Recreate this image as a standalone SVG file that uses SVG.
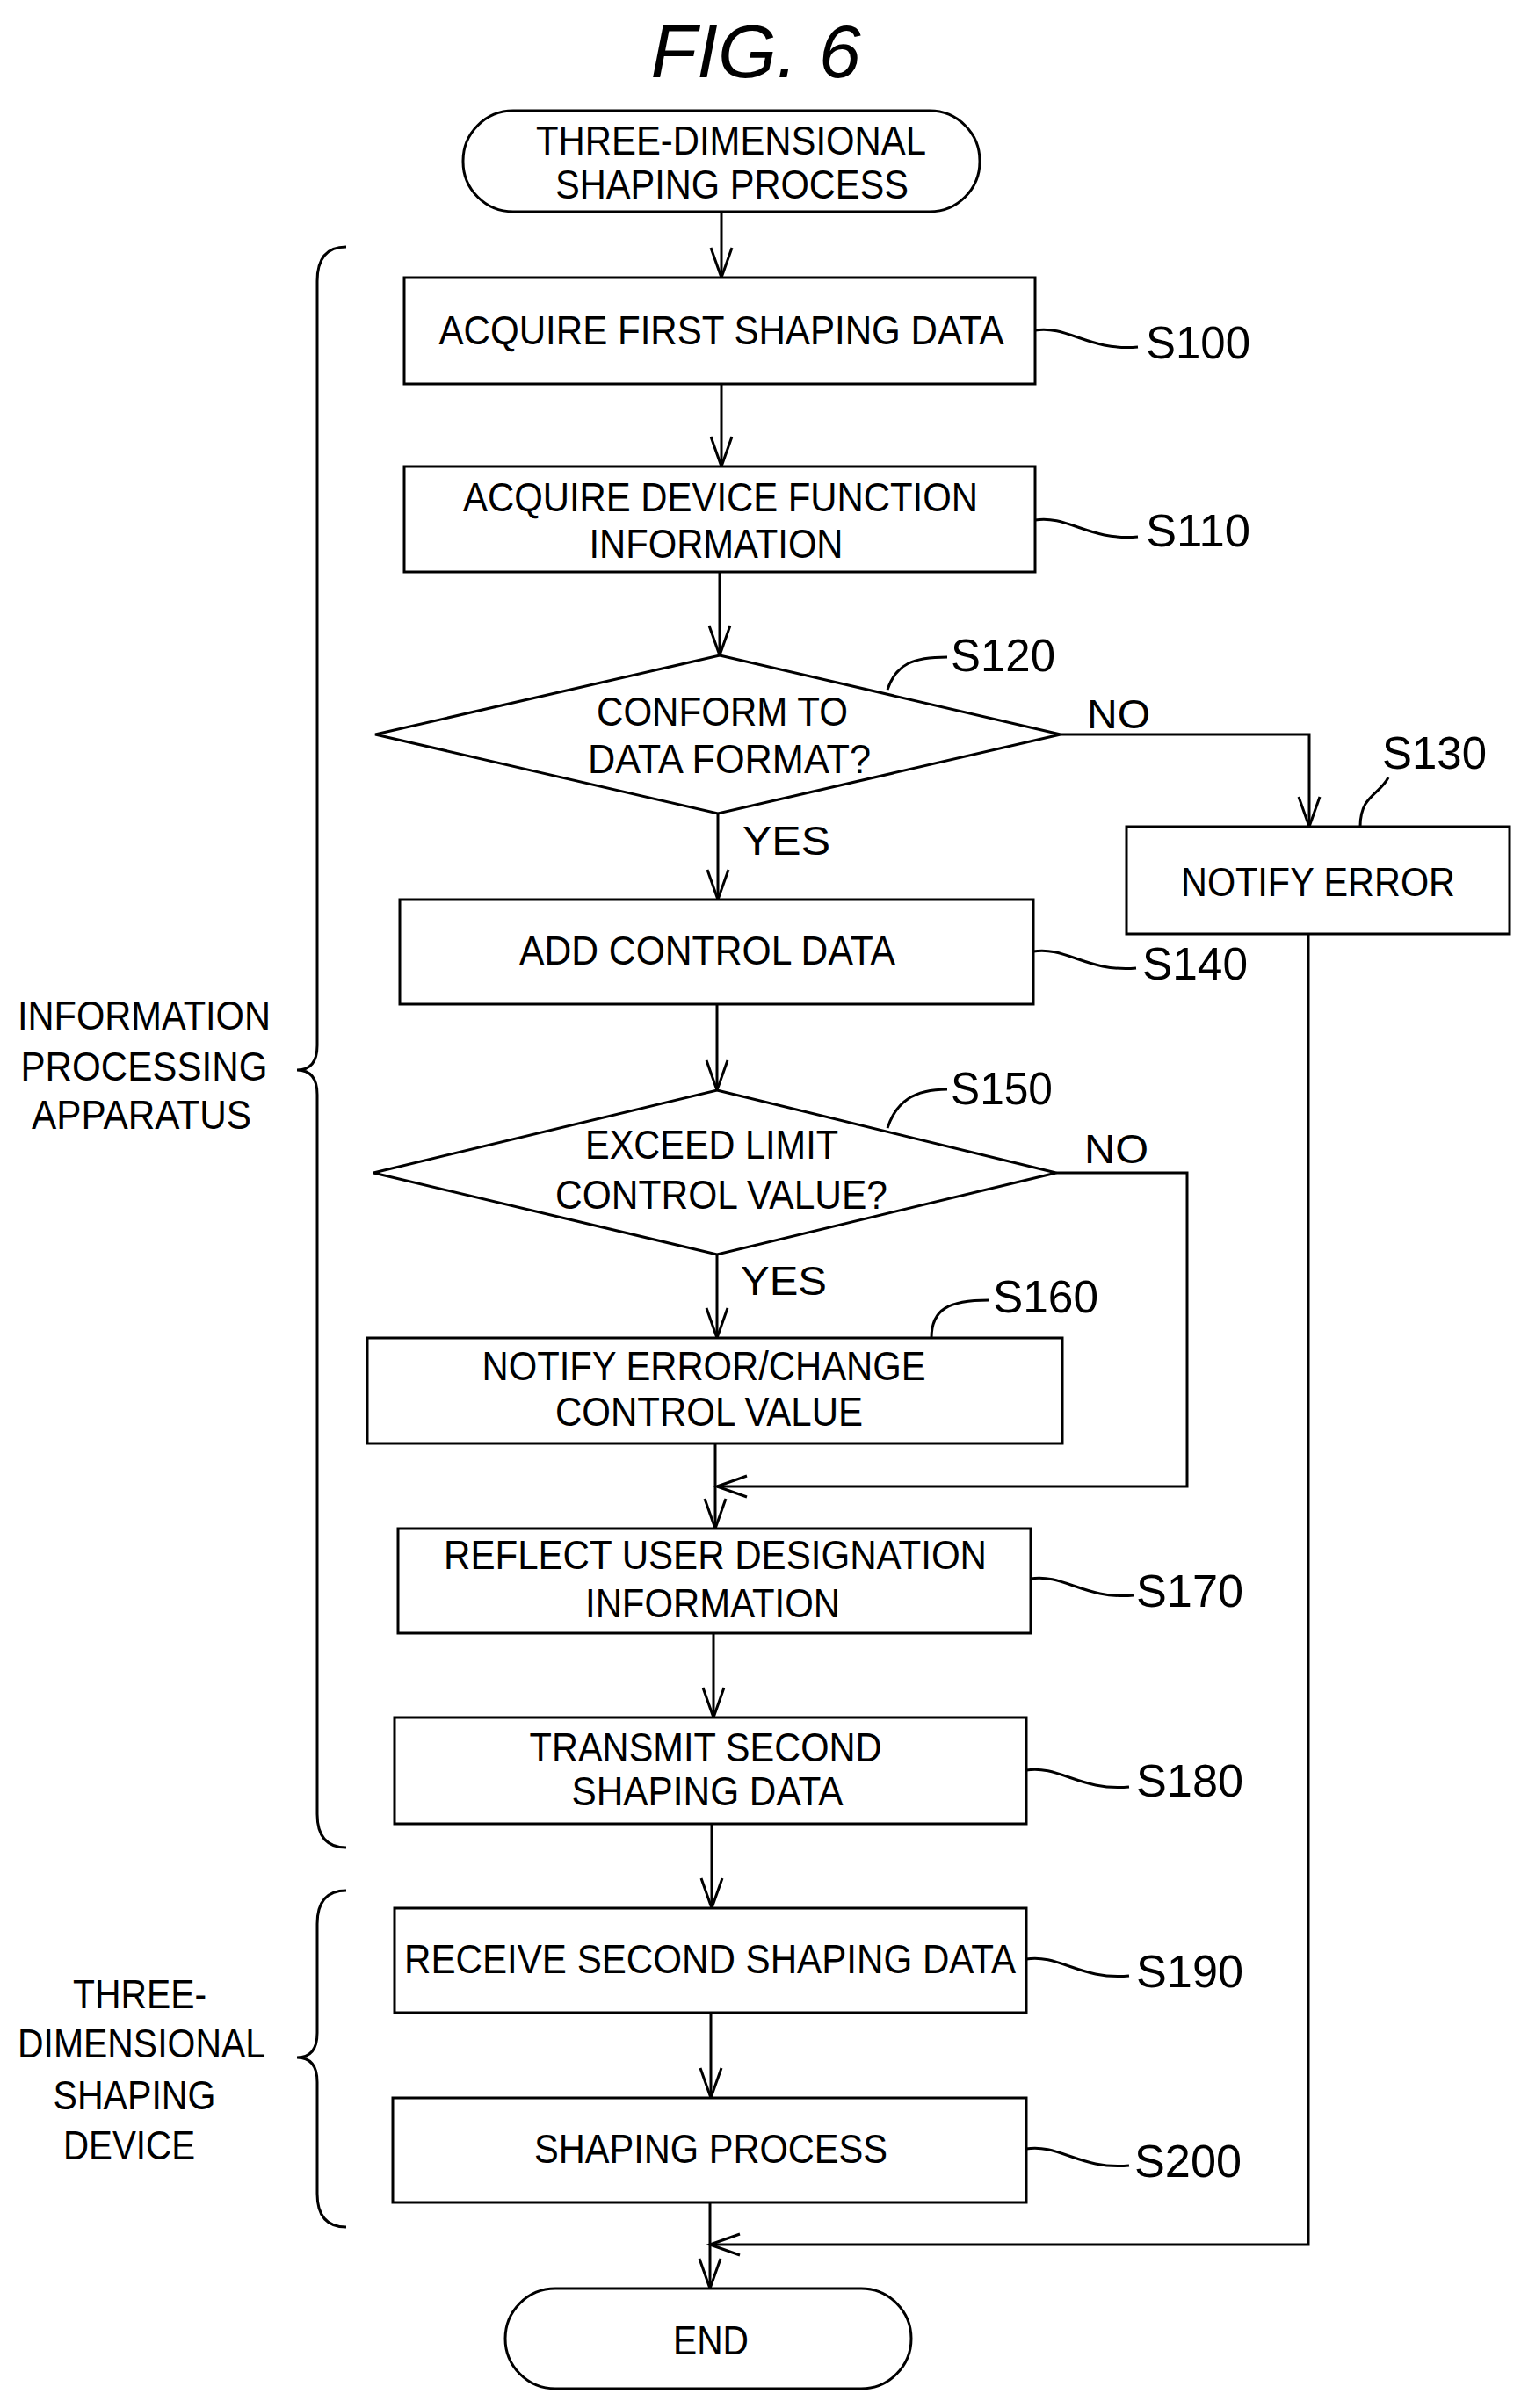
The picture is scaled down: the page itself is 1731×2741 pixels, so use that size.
<svg xmlns="http://www.w3.org/2000/svg" width="1731" height="2741" viewBox="0 0 1731 2741">
<style>
.n{fill:#fff;stroke:#000;stroke-width:3}
.c{fill:none;stroke:#000;stroke-width:3}
text{font-family:"Liberation Sans",Arial,sans-serif;font-size:46px;fill:#000}
.m{text-anchor:middle}
.s{font-size:52px}
</style>
<defs>
<marker id="a" markerWidth="40" markerHeight="40" refX="36" refY="20" orient="auto" markerUnits="userSpaceOnUse" viewBox="0 0 40 40">
<path d="M2,8 L36,20 L2,32" fill="none" stroke="#000" stroke-width="3"/>
</marker>
</defs>
<rect width="1731" height="2741" fill="#fff"/>
<text x="860" y="88" class="m" style="font-size:86px;font-style:italic">FIG. 6</text>
<g id="connectors">
<path class="c" d="M821,241 L821,316" marker-end="url(#a)"/>
<path class="c" d="M821,437 L821,531" marker-end="url(#a)"/>
<path class="c" d="M819,651 L819,746" marker-end="url(#a)"/>
<path class="c" d="M1207,836 L1490,836 L1490,941" marker-end="url(#a)"/>
<path class="c" d="M817,926 L817,1024" marker-end="url(#a)"/>
<path class="c" d="M816,1143 L816,1241" marker-end="url(#a)"/>
<path class="c" d="M816,1428 L816,1523" marker-end="url(#a)"/>
<path class="c" d="M1202,1335 L1351,1335 L1351,1692 L816,1692" marker-end="url(#a)"/>
<path class="c" d="M814,1643 L814,1740" marker-end="url(#a)"/>
<path class="c" d="M812,1859 L812,1955" marker-end="url(#a)"/>
<path class="c" d="M810,2076 L810,2172" marker-end="url(#a)"/>
<path class="c" d="M809,2291 L809,2388" marker-end="url(#a)"/>
<path class="c" d="M1489,1063 L1489,2555 L808,2555" marker-end="url(#a)"/>
<path class="c" d="M808,2507 L808,2605" marker-end="url(#a)"/>
<path class="c" d="M1178,376 C1215,370 1240,400 1295,395"/>
<path class="c" d="M1178,592 C1215,586 1240,616 1295,611"/>
<path class="c" d="M1010,785 C1020,755 1040,748 1078,748"/>
<path class="c" d="M1548,941 C1548,905 1570,905 1580,885"/>
<path class="c" d="M1176,1083 C1213,1077 1238,1107 1293,1102"/>
<path class="c" d="M1010,1284 C1020,1254 1040,1240 1078,1240"/>
<path class="c" d="M1060,1523 C1060,1490 1080,1480 1125,1480"/>
<path class="c" d="M1173,1797 C1210,1791 1235,1821 1290,1816"/>
<path class="c" d="M1168,2015 C1205,2009 1230,2039 1285,2034"/>
<path class="c" d="M1168,2230 C1205,2224 1230,2254 1285,2249"/>
<path class="c" d="M1168,2446 C1205,2440 1230,2470 1285,2465"/>
<path class="c" d="M394,281 Q361,281 361,320 L361,1190 Q361,1218 338,1218 Q361,1218 361,1246 L361,2065 Q361,2103 394,2103"/>
<path class="c" d="M394,2152 Q361,2152 361,2190 L361,2314 Q361,2342 338,2342 Q361,2342 361,2370 L361,2497 Q361,2535 394,2535"/>
</g>
<g id="start"><rect class="n" x="527" y="126" width="588" height="115" rx="57"/>
<text x="832" y="176" class="m" textLength="444" lengthAdjust="spacingAndGlyphs">THREE-DIMENSIONAL</text>
<text x="833" y="226" class="m" textLength="402" lengthAdjust="spacingAndGlyphs">SHAPING PROCESS</text></g>
<g id="s100"><rect class="n" x="460" y="316" width="718" height="121"/>
<text x="821" y="392" class="m" textLength="643" lengthAdjust="spacingAndGlyphs">ACQUIRE FIRST SHAPING DATA</text>
<text x="1304" y="408" class="s" textLength="119" lengthAdjust="spacingAndGlyphs">S100</text></g>
<g id="s110"><rect class="n" x="460" y="531" width="718" height="120"/>
<text x="820" y="582" class="m" textLength="586" lengthAdjust="spacingAndGlyphs">ACQUIRE DEVICE FUNCTION</text>
<text x="815" y="635" class="m" textLength="289" lengthAdjust="spacingAndGlyphs">INFORMATION</text>
<text x="1304" y="622" class="s" textLength="119" lengthAdjust="spacingAndGlyphs">S110</text></g>
<g id="s120"><polygon class="n" points="819,746 1207,836 817,926 427,836"/>
<text x="822" y="826" class="m" textLength="286" lengthAdjust="spacingAndGlyphs">CONFORM TO</text>
<text x="830" y="880" class="m" textLength="322" lengthAdjust="spacingAndGlyphs">DATA FORMAT?</text>
<text x="1082" y="764" class="s" textLength="119" lengthAdjust="spacingAndGlyphs">S120</text>
<text x="1237" y="829" textLength="72" lengthAdjust="spacingAndGlyphs">NO</text>
<text x="845" y="973" textLength="100" lengthAdjust="spacingAndGlyphs">YES</text></g>
<g id="s130"><rect class="n" x="1282" y="941" width="436" height="122"/>
<text x="1500" y="1020" class="m" textLength="312" lengthAdjust="spacingAndGlyphs">NOTIFY ERROR</text>
<text x="1573" y="875" class="s" textLength="119" lengthAdjust="spacingAndGlyphs">S130</text></g>
<g id="s140"><rect class="n" x="455" y="1024" width="721" height="119"/>
<text x="805" y="1098" class="m" textLength="428" lengthAdjust="spacingAndGlyphs">ADD CONTROL DATA</text>
<text x="1300" y="1115" class="s" textLength="120" lengthAdjust="spacingAndGlyphs">S140</text></g>
<g id="s150"><polygon class="n" points="816,1241 1202,1335 816,1428 425,1335"/>
<text x="810" y="1319" class="m" textLength="288" lengthAdjust="spacingAndGlyphs">EXCEED LIMIT</text>
<text x="821" y="1376" class="m" textLength="378" lengthAdjust="spacingAndGlyphs">CONTROL VALUE?</text>
<text x="1082" y="1257" class="s" textLength="116" lengthAdjust="spacingAndGlyphs">S150</text>
<text x="1234" y="1324" textLength="73" lengthAdjust="spacingAndGlyphs">NO</text>
<text x="843" y="1474" textLength="98" lengthAdjust="spacingAndGlyphs">YES</text></g>
<g id="s160"><rect class="n" x="418" y="1523" width="791" height="120"/>
<text x="801" y="1571" class="m" textLength="505" lengthAdjust="spacingAndGlyphs">NOTIFY ERROR/CHANGE</text>
<text x="807" y="1623" class="m" textLength="350" lengthAdjust="spacingAndGlyphs">CONTROL VALUE</text>
<text x="1130" y="1494" class="s" textLength="120" lengthAdjust="spacingAndGlyphs">S160</text></g>
<g id="s170"><rect class="n" x="453" y="1740" width="720" height="119"/>
<text x="814" y="1786" class="m" textLength="618" lengthAdjust="spacingAndGlyphs">REFLECT USER DESIGNATION</text>
<text x="811" y="1841" class="m" textLength="290" lengthAdjust="spacingAndGlyphs">INFORMATION</text>
<text x="1293" y="1829" class="s" textLength="122" lengthAdjust="spacingAndGlyphs">S170</text></g>
<g id="s180"><rect class="n" x="449" y="1955" width="719" height="121"/>
<text x="803" y="2005" class="m" textLength="401" lengthAdjust="spacingAndGlyphs">TRANSMIT SECOND</text>
<text x="805" y="2055" class="m" textLength="309" lengthAdjust="spacingAndGlyphs">SHAPING DATA</text>
<text x="1293" y="2045" class="s" textLength="122" lengthAdjust="spacingAndGlyphs">S180</text></g>
<g id="s190"><rect class="n" x="449" y="2172" width="719" height="119"/>
<text x="808" y="2246" class="m" textLength="696" lengthAdjust="spacingAndGlyphs">RECEIVE SECOND SHAPING DATA</text>
<text x="1293" y="2262" class="s" textLength="122" lengthAdjust="spacingAndGlyphs">S190</text></g>
<g id="s200"><rect class="n" x="447" y="2388" width="721" height="119"/>
<text x="809" y="2462" class="m" textLength="402" lengthAdjust="spacingAndGlyphs">SHAPING PROCESS</text>
<text x="1291" y="2478" class="s" textLength="122" lengthAdjust="spacingAndGlyphs">S200</text></g>
<g id="end"><rect class="n" x="575" y="2605" width="462" height="114" rx="57"/>
<text x="809" y="2680" class="m" textLength="86" lengthAdjust="spacingAndGlyphs">END</text></g>
<g id="info-apparatus">
<text x="164" y="1172" class="m" textLength="288" lengthAdjust="spacingAndGlyphs">INFORMATION</text>
<text x="164" y="1230" class="m" textLength="281" lengthAdjust="spacingAndGlyphs">PROCESSING</text>
<text x="161" y="1285" class="m" textLength="250" lengthAdjust="spacingAndGlyphs">APPARATUS</text></g>
<g id="shaping-device">
<text x="159" y="2286" class="m" textLength="152" lengthAdjust="spacingAndGlyphs">THREE-</text>
<text x="161" y="2342" class="m" textLength="282" lengthAdjust="spacingAndGlyphs">DIMENSIONAL</text>
<text x="153" y="2401" class="m" textLength="185" lengthAdjust="spacingAndGlyphs">SHAPING</text>
<text x="147" y="2458" class="m" textLength="150" lengthAdjust="spacingAndGlyphs">DEVICE</text></g>
</svg>
